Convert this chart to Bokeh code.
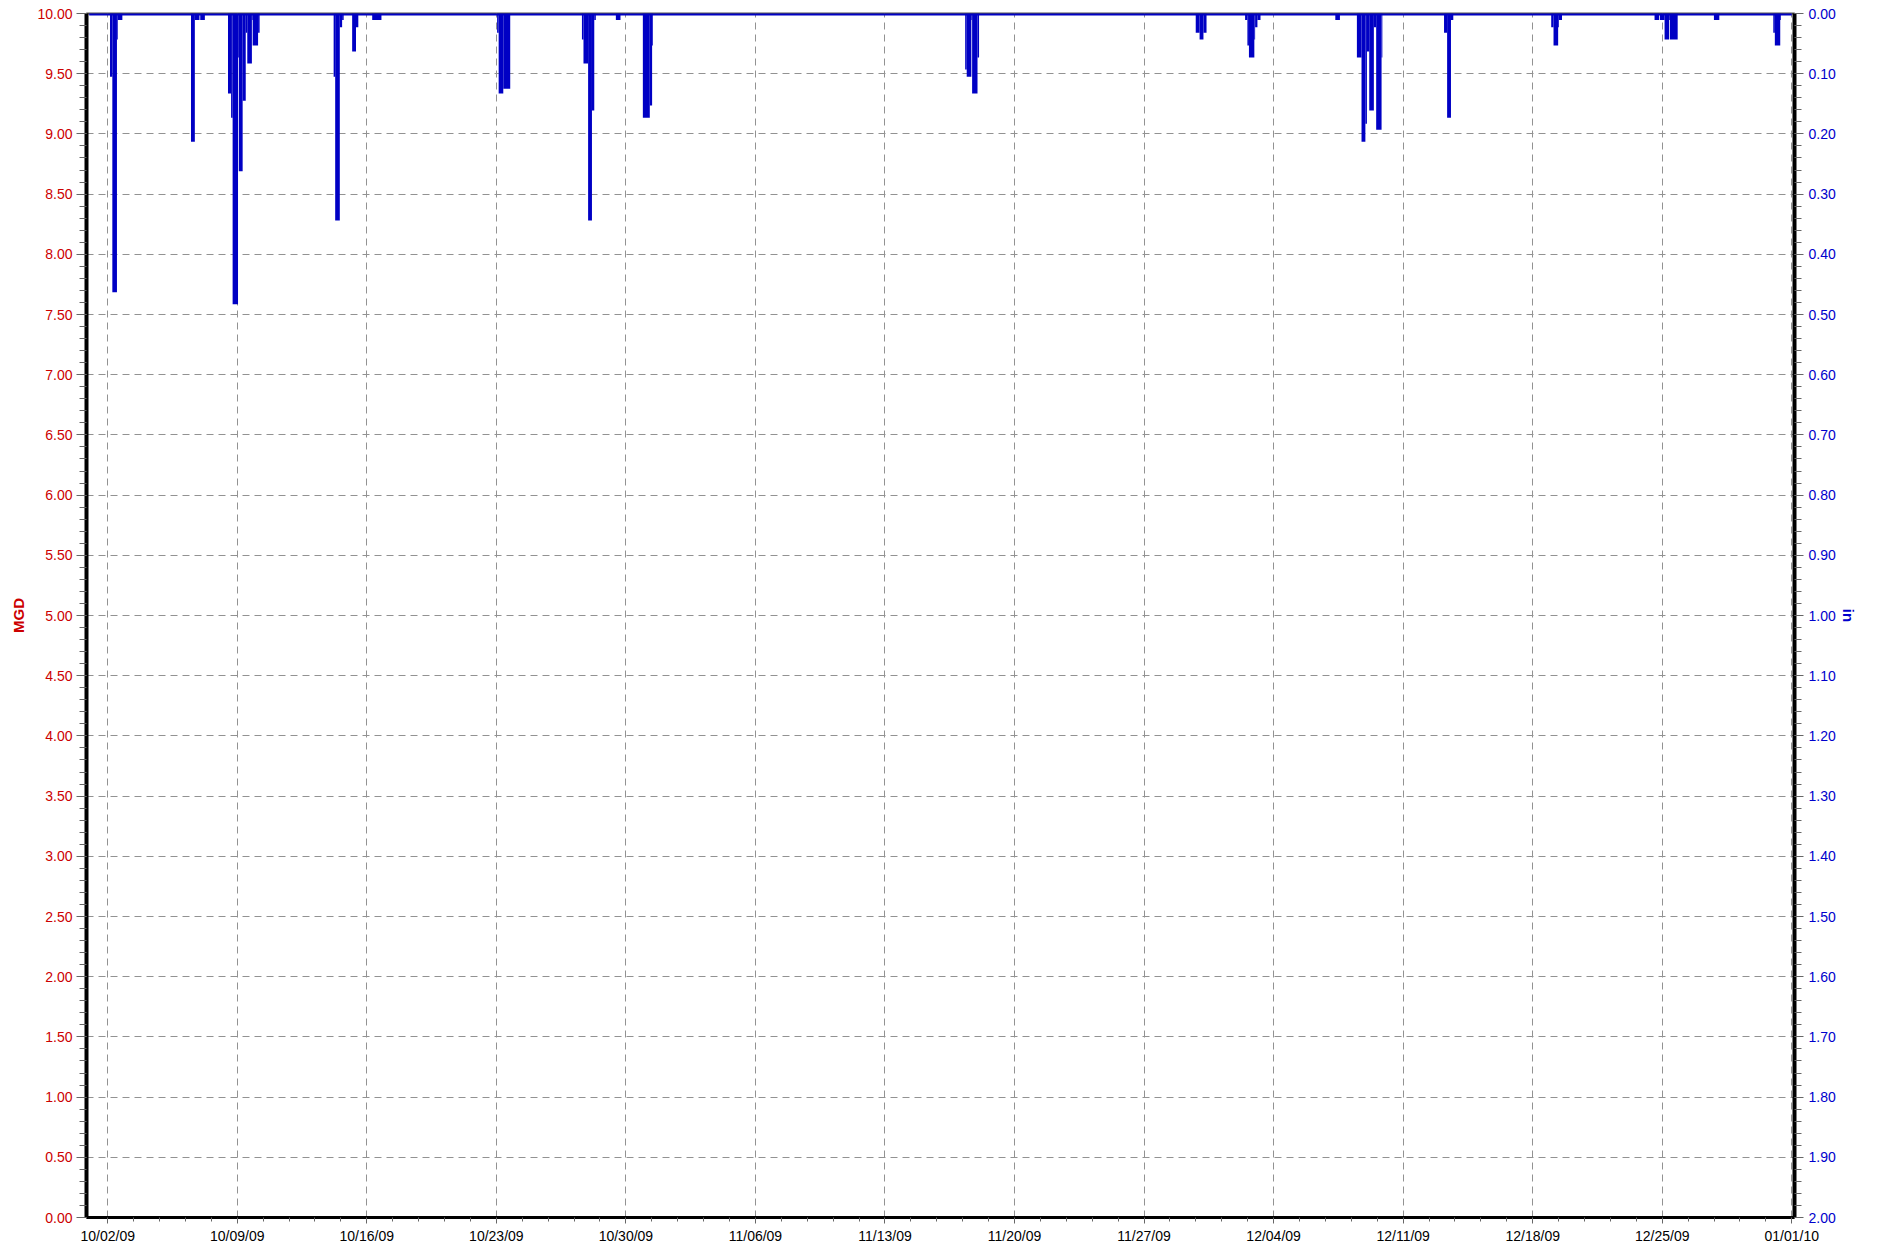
import numpy as np
import pandas as pd
from bokeh.plotting import figure
from bokeh.models import (Range1d, LinearAxis, FixedTicker, PrintfTickFormatter,
                          DatetimeTickFormatter, ColumnDataSource)
from bokeh.embed import file_html
from bokeh.resources import INLINE

# ---------------- data ----------------
# rainfall (inches); each value holds from its time until the next time
rain_time = [
    "2009-10-01 00:00", "2009-10-02 03:00", "2009-10-02 06:00", "2009-10-02 12:00", "2009-10-02 13:00",
    "2009-10-02 19:00", "2009-10-06 12:00", "2009-10-06 17:00", "2009-10-06 23:00", "2009-10-07 00:00",
    "2009-10-07 06:00", "2009-10-08 12:00", "2009-10-08 16:00", "2009-10-08 18:00", "2009-10-09 01:00",
    "2009-10-09 02:00", "2009-10-09 07:00", "2009-10-09 11:00", "2009-10-09 13:00", "2009-10-09 19:00",
    "2009-10-09 20:00", "2009-10-10 03:00", "2009-10-10 05:00", "2009-10-14 05:00", "2009-10-14 07:00",
    "2009-10-14 13:00", "2009-10-14 16:00", "2009-10-14 18:00", "2009-10-15 05:00", "2009-10-15 10:00",
    "2009-10-15 13:00", "2009-10-16 07:00", "2009-10-16 19:00", "2009-10-23 01:00", "2009-10-23 03:00",
    "2009-10-23 09:00", "2009-10-23 18:00", "2009-10-27 15:00", "2009-10-27 17:00", "2009-10-27 23:00",
    "2009-10-28 04:00", "2009-10-28 07:00", "2009-10-28 09:00", "2009-10-29 11:00", "2009-10-29 17:00",
    "2009-10-30 22:00", "2009-10-31 07:00", "2009-10-31 10:00", "2009-10-31 11:00", "2009-11-17 08:00",
    "2009-11-17 10:00", "2009-11-17 16:00", "2009-11-17 17:00", "2009-11-18 00:00", "2009-11-18 02:00",
    "2009-11-29 19:00", "2009-11-30 00:00", "2009-11-30 05:00", "2009-11-30 09:00", "2009-12-02 11:00",
    "2009-12-02 14:00", "2009-12-02 16:00", "2009-12-02 23:00", "2009-12-03 00:00", "2009-12-03 03:00",
    "2009-12-03 07:00", "2009-12-07 08:00", "2009-12-07 14:00", "2009-12-08 12:00", "2009-12-08 18:00",
    "2009-12-08 23:00", "2009-12-09 01:00", "2009-12-09 04:00", "2009-12-09 10:00", "2009-12-09 13:00",
    "2009-12-09 20:00", "2009-12-09 21:00", "2009-12-13 05:00", "2009-12-13 09:00", "2009-12-13 14:00",
    "2009-12-13 17:00", "2009-12-19 00:00", "2009-12-19 03:00", "2009-12-19 09:00", "2009-12-19 10:00",
    "2009-12-19 14:00", "2009-12-24 14:00", "2009-12-24 20:00", "2009-12-24 21:00", "2009-12-25 03:00",
    "2009-12-25 09:00", "2009-12-25 10:00", "2009-12-25 20:00", "2009-12-27 19:00", "2009-12-28 02:00",
    "2009-12-31 00:00", "2009-12-31 02:00", "2009-12-31 09:00", "2009-12-31 10:00", "2010-01-01 00:00",
]
rain_in = [
    0.0, 0.105, 0.463, 0.043, 0.011,
    0.0, 0.213, 0.011, 0.0, 0.011,
    0.0, 0.133, 0.173, 0.483, 0.073,
    0.262, 0.145, 0.032, 0.083, 0.011,
    0.053, 0.032, 0.0, 0.105, 0.344,
    0.023, 0.011, 0.0, 0.063, 0.023,
    0.0, 0.011, 0.0, 0.032, 0.133,
    0.125, 0.0, 0.043, 0.083, 0.344,
    0.161, 0.011, 0.0, 0.011, 0.0,
    0.173, 0.153, 0.053, 0.0, 0.093,
    0.105, 0.011, 0.133, 0.073, 0.0,
    0.032, 0.043, 0.032, 0.0, 0.011,
    0.053, 0.073, 0.043, 0.023, 0.011,
    0.0, 0.011, 0.0, 0.073, 0.213,
    0.183, 0.063, 0.161, 0.023, 0.193,
    0.073, 0.0, 0.032, 0.173, 0.011,
    0.0, 0.023, 0.053, 0.023, 0.011,
    0.0, 0.011, 0.0, 0.011, 0.043,
    0.011, 0.043, 0.0, 0.011, 0.0,
    0.032, 0.053, 0.011, 0.0, 0.0,
]

x_tick_dates = ["2009-10-02", "2009-10-09", "2009-10-16", "2009-10-23", "2009-10-30",
                "2009-11-06", "2009-11-13", "2009-11-20", "2009-11-27", "2009-12-04",
                "2009-12-11", "2009-12-18", "2009-12-25", "2010-01-01"]
mgd_ticks = [i * 0.5 for i in range(21)]        # 0.00 .. 10.00
mgd_minor = [i * 0.1 for i in range(101)]
in_ticks = [i * 0.1 for i in range(21)]         # 0.00 .. 2.00
in_minor = [i * 0.02 for i in range(101)]

BLUE = "#0000C4"
RED = "#CC0000"
LBLUE = "#0000CC"
FONT = "Liberation Sans"

# ---------------- derived ----------------
t = pd.to_datetime(rain_time)
v = np.array(rain_in)
mask = v[:-1] > 0
src = ColumnDataSource(dict(left=t[:-1][mask], right=t[1:][mask],
                            top=np.zeros(int(mask.sum())), bottom=v[:-1][mask]))

pad = pd.Timedelta(hours=3.5)
def ms(x):
    return pd.Timestamp(x).value / 1e6

major_x = [ms(d) for d in x_tick_dates]
minor_x = []
for a, b in zip(major_x[:-1], major_x[1:]):
    for k in range(1, 5):
        minor_x.append(a + (b - a) * k / 5)

W, H = 1875, 1246
p = figure(width=W, height=H, x_axis_type="datetime",
           output_backend="svg", toolbar_location=None,
           x_range=Range1d(t[0] - pad, t[-1] + pad),
           y_range=Range1d(0, 10),
           min_border_left=86, min_border_right=W - 1794,
           min_border_top=13, min_border_bottom=H - 1219)
p.extra_y_ranges = {"rain": Range1d(start=2.0, end=0.0)}
p.background_fill_color = "white"
p.border_fill_color = "white"
p.outline_line_color = "#555555"
p.outline_line_width = 2

# bars + baseline
p.quad(left="left", right="right", top="top", bottom="bottom", source=src,
       y_range_name="rain", fill_color=BLUE, line_color=None)
p.line(x=[t[0], t[-1]], y=[0, 0], y_range_name="rain", line_color=BLUE, line_width=4)

# left axis
ly = p.yaxis[0]
ly.ticker = FixedTicker(ticks=mgd_ticks, minor_ticks=mgd_minor)
ly.formatter = PrintfTickFormatter(format="%.2f")
ly.axis_label = "MGD"
ly.axis_label_text_color = RED
ly.axis_label_text_font = FONT
ly.axis_label_text_font_style = "bold"
ly.axis_label_text_font_size = "15px"
ly.axis_label_standoff = 7
ly.major_label_text_color = RED
ly.major_label_text_font = FONT
ly.major_label_text_font_size = "14px"
ly.major_label_standoff = 4
ly.axis_line_color = "black"
ly.axis_line_width = 4
ly.major_tick_line_color = "#666666"
ly.minor_tick_line_color = "#666666"
ly.major_tick_out = 10
ly.major_tick_in = 0
ly.minor_tick_out = 7
ly.minor_tick_in = 0

# right axis
ry = LinearAxis(y_range_name="rain")
ry.ticker = FixedTicker(ticks=in_ticks, minor_ticks=in_minor)
ry.formatter = PrintfTickFormatter(format="%.2f")
ry.axis_label = "in"
ry.axis_label_text_color = LBLUE
ry.axis_label_text_font = FONT
ry.axis_label_text_font_style = "bold"
ry.axis_label_text_font_size = "15px"
ry.axis_label_standoff = 1
ry.major_label_text_color = LBLUE
ry.major_label_text_font = FONT
ry.major_label_text_font_size = "14px"
ry.major_label_standoff = 5
ry.axis_line_color = "black"
ry.axis_line_width = 4
ry.major_tick_line_color = "#666666"
ry.minor_tick_line_color = "#666666"
ry.major_tick_out = 9
ry.major_tick_in = 0
ry.minor_tick_out = 7
ry.minor_tick_in = 0
p.add_layout(ry, "right")

# bottom axis
bx = p.xaxis[0]
bx.ticker = FixedTicker(ticks=major_x, minor_ticks=minor_x)
fmt = "%m/%d/%y"
bx.formatter = DatetimeTickFormatter(microseconds=fmt, milliseconds=fmt, seconds=fmt,
                                     minsec=fmt, minutes=fmt, hourmin=fmt, hours=fmt,
                                     days=fmt, months=fmt, years=fmt, context=None)
bx.major_label_text_color = "black"
bx.major_label_text_font = FONT
bx.major_label_text_font_size = "14px"
bx.major_label_standoff = 4
bx.axis_line_color = "black"
bx.axis_line_width = 3
bx.major_tick_line_color = "#666666"
bx.minor_tick_line_color = "#666666"
bx.major_tick_out = 6
bx.major_tick_in = 0
bx.minor_tick_out = 4
bx.minor_tick_in = 0

# grids
for g in (p.xgrid[0], p.ygrid[0]):
    g.grid_line_color = "#929292"
    g.grid_line_dash = "7 5"
    g.grid_line_width = 1

open("out.html", "w").write(file_html(p, INLINE))
